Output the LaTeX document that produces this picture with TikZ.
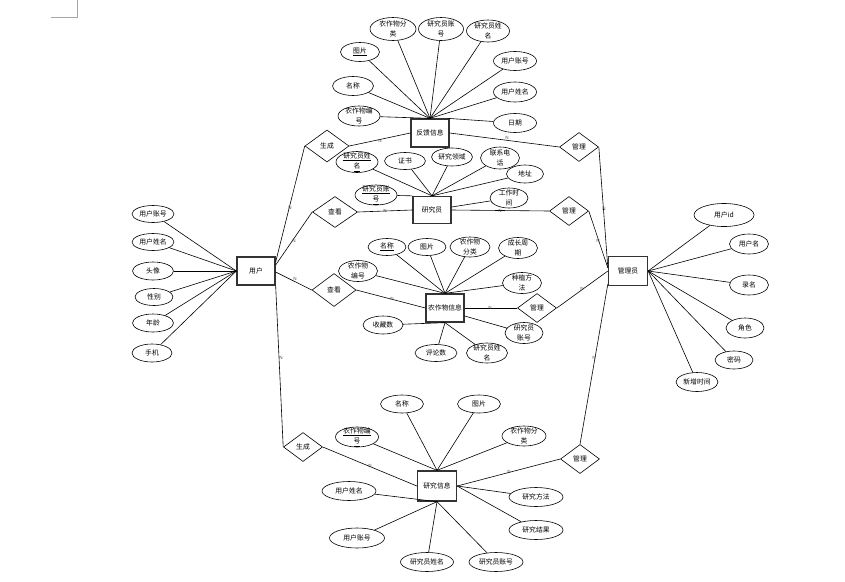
\documentclass[tikz,border=0pt]{standalone}
\usepackage{fontspec}
\newfontfamily\cjk{Noto Sans CJK SC}
\usetikzlibrary{shapes.geometric,calc}
\begin{document}
\begin{tikzpicture}[x=1pt,y=-1pt,
  every node/.style={font=\cjk\fontsize{6.8}{10.5}\selectfont},
  attr/.style={ellipse,draw,line width=0.6pt,inner sep=-5pt,minimum width=42,minimum height=19,align=center},
  ent/.style={rectangle,draw=black!80,line width=1.3pt,minimum width=38,minimum height=28,inner sep=0},
  rel/.style={diamond,draw,line width=0.6pt,minimum width=39,minimum height=29,inner sep=-3pt},
  ln/.style={line width=0.6pt},
  card/.style={font=\sffamily\fontsize{4.5}{4.5}\selectfont,text=black!70,inner sep=0}
]
\useasboundingbox (0,0) rectangle (845,581);
\draw[black!35,line width=0.5pt] (51,17) -- (77,17) -- (77,0);

% entities
\node[ent] (u) at (256,271) {用户};
\node[ent] (fk) at (430,133) {反馈信息};
\node[ent,minimum height=27] (yj) at (432,210) {研究员};
\node[ent] (nz) at (445,308) {农作物信息};
\node[ent,minimum width=39,minimum height=30] (yx) at (437,486) {研究信息};
\node[ent,minimum width=39,minimum height=29] (adm) at (628,271) {管理员};

% relations
\node[rel,minimum width=44,minimum height=32] (r1) at (327,146) {生成};
\node[rel,minimum width=45,minimum height=31] (r2) at (335,212) {查看};
\node[rel,minimum width=44,minimum height=33] (r3) at (334,290) {查看};
\node[rel] (r4) at (303,447) {生成};
\node[rel] (m1) at (579,147) {管理};
\node[rel] (m2) at (569,211) {管理};
\node[rel] (m3) at (537,308) {管理};
\node[rel] (m4) at (580,459) {管理};

% feedback attributes
\node[attr,minimum width=46,minimum height=23] (fa1) at (393,29) {农作物分\\类};
\node[attr,minimum width=45,minimum height=23] (fa2) at (441,29) {研究员账\\号};
\node[attr,minimum width=43,minimum height=22] (fa3) at (488,31) {研究员姓\\名};
\node[attr,minimum width=39] (fa4) at (360,52) {\underline{图片}};
\node[attr,minimum width=43] (fa5) at (515,61) {用户账号};
\node[attr,minimum width=41] (fa6) at (353,86) {名称};
\node[attr,minimum width=43,minimum height=20] (fa7) at (515,92) {用户姓名};
\node[attr,minimum width=42,minimum height=20] (fa8) at (359,116) {农作物编\\号};
\node[attr,minimum width=43] (fa9) at (515,123) {日期};
\foreach \a in {fa1,fa2,fa3,fa4,fa5,fa6,fa7,fa8}{\draw[ln] (\a) -- (fk.north);}
\draw[ln] (fa9) -- ([xshift=-2pt]fk.north east);

% researcher attributes
\node[attr,minimum width=42,minimum height=21] (ya1) at (357,162) {\underline{研究员姓}\\\underline{名}};
\node[attr,minimum width=41,minimum height=17] (ya2) at (405,161) {证书};
\node[attr,minimum width=41,minimum height=18] (ya3) at (452,157) {研究领域};
\node[attr,minimum width=39,minimum height=22] (ya4) at (500,158) {联系电\\话};
\node[attr,minimum width=37,minimum height=18] (ya5) at (525,174) {地址};
\node[attr,minimum width=42,minimum height=20] (ya6) at (376,195) {\underline{研究员账}\\\underline{号}};
\node[attr,minimum width=38,minimum height=20] (ya7) at (509,198) {工作时\\间};
\foreach \a in {ya1,ya2,ya3,ya4,ya5}{\draw[ln] (\a) -- (yj.north);}
\draw[ln] (ya6) -- (yj.north west);
\draw[ln] (ya7) -- ([yshift=3pt]yj.east);

% crop attributes
\node[attr,minimum width=38,minimum height=17] (na1) at (387,247) {\underline{名称}};
\node[attr,minimum width=38,minimum height=17] (na2) at (427,247) {图片};
\node[attr,minimum width=40,minimum height=20] (na3) at (470,247) {农作物\\分类};
\node[attr,minimum width=39,minimum height=21] (na4) at (518,248) {成长周\\期};
\node[attr,minimum width=39,minimum height=21] (na5) at (358,271) {农作物\\编号};
\node[attr,minimum width=39,minimum height=21] (na6) at (522,283) {种植方\\法};
\node[attr,minimum width=40,minimum height=18] (na7) at (383,325) {收藏数};
\node[attr,minimum width=38,minimum height=21] (na8) at (524,333) {研究员\\账号};
\node[attr,minimum width=42,minimum height=17] (na9) at (436,353) {评论数};
\node[attr,minimum width=41,minimum height=20] (na10) at (487,353) {研究员姓\\名};
\foreach \a in {na1,na2,na3,na4,na5,na6}{\draw[ln] (\a) -- (nz.north);}
\foreach \a in {na7,na9,na10}{\draw[ln] (\a) -- (nz.south);}
\draw[ln] (na8) -- ([yshift=-8pt]nz.east);

% research info attributes
\node[attr,minimum width=43,minimum height=18] (xa1) at (402,404) {名称};
\node[attr,minimum width=43,minimum height=18] (xa2) at (479,404) {图片};
\node[attr,minimum width=43,minimum height=20] (xa3) at (357,437) {\underline{农作物编}\\\underline{号}};
\node[attr,minimum width=44,minimum height=20] (xa4) at (524,436) {农作物分\\类};
\node[attr,minimum width=54,minimum height=19] (xa5) at (349,491) {用户姓名};
\node[attr,minimum width=54,minimum height=19] (xa6) at (536,497) {研究方法};
\node[attr,minimum width=54,minimum height=19] (xa7) at (536,530) {研究结果};
\node[attr,minimum width=55,minimum height=20] (xa8) at (357,538) {用户账号};
\node[attr,minimum width=53,minimum height=19] (xa9) at (427,562) {研究员姓名};
\node[attr,minimum width=54,minimum height=19] (xa10) at (496,562) {研究员账号};
\foreach \a in {xa1,xa2,xa3,xa4}{\draw[ln] (\a) -- (yx.north);}
\foreach \a in {xa5,xa8,xa9,xa10}{\draw[ln] (\a) -- (yx.south);}
\foreach \a in {xa6,xa7}{\draw[ln] (\a) -- (yx.east);}

% user attributes
\node[attr,minimum width=42,minimum height=17] (ua1) at (153,214) {用户账号};
\node[attr,minimum width=42,minimum height=17] (ua2) at (153,242) {用户姓名};
\node[attr,minimum width=41,minimum height=18] (ua3) at (153,271) {头像};
\node[attr,minimum width=38,minimum height=17] (ua4) at (154,297) {性别};
\node[attr,minimum width=41,minimum height=18] (ua5) at (153,323) {年龄};
\node[attr,minimum width=40,minimum height=18] (ua6) at (152,353) {手机};
\foreach \a in {ua1,ua2,ua3,ua4,ua5,ua6}{\draw[ln] (\a) -- (u.west);}

% admin attributes
\node[attr,minimum width=60,minimum height=23] (ma1) at (724,215) {用户id};
\node[attr,minimum width=39,minimum height=20] (ma2) at (749,244) {用户名};
\node[attr,minimum width=39,minimum height=20] (ma3) at (749,285) {录名};
\node[attr,minimum width=38,minimum height=20] (ma4) at (745,328) {角色};
\node[attr,minimum width=38,minimum height=18] (ma5) at (734,360) {密码};
\node[attr,minimum width=42,minimum height=19] (ma6) at (697,382) {新增时间};
\foreach \a in {ma1,ma2,ma3,ma4,ma5,ma6}{\draw[ln] (\a) -- (adm.east);}

% relationship lines
\draw[ln] ([yshift=9pt]u.east) -- (r1.west);
\draw[ln] ([yshift=6pt]u.east) -- (r2.west);
\draw[ln] ([yshift=-1pt]u.east) -- (r3.west);
\draw[ln] (u.south east) -- (r4.west);
\draw[ln] (r1.east) -- (fk.west);
\draw[ln] (r2.east) -- (yj.west);
\draw[ln] (r3.east) -- (nz.west);
\draw[ln] (r4.east) -- (yx.west);
\draw[ln] (fk.east) -- (m1.west);
\draw[ln] (yj.east) -- (m2.west);
\draw[ln] (nz.east) -- (m3.west);
\draw[ln] (yx.east) -- (m4.west);
\draw[ln] (m1.east) -- ([yshift=3pt]adm.west);
\draw[ln] (m2.east) -- ([yshift=3pt]adm.west);
\draw[ln] (m3.east) -- (adm.west);
\draw[ln] (m4.north) -- ([yshift=-13pt]adm.west);

% cardinalities
\node[card] (k1) at (290,208) {N};
\node[card] (k2) at (294,241) {N};
\node[card] (k3) at (295,279) {N};
\node[card] (k4) at (281,358) {N};
\node[card] (k5) at (380,141) {N};
\node[card] (k6) at (385,211) {N};
\node[card] (k7) at (392,299) {N};
\node[card] (k8) at (370,466) {N};
\node[card] (k9) at (507,138) {N};
\node[card] (k10) at (500,211) {N};
\node[card] (k11) at (490,308) {N};
\node[card] (k12) at (509,472) {N};
\node[card] (k13) at (604,209) {N};
\node[card] (k14) at (598,241) {N};
\node[card] (k15) at (582,289) {N};
\node[card] (k16) at (594,358) {N};
\end{tikzpicture}
\end{document}
